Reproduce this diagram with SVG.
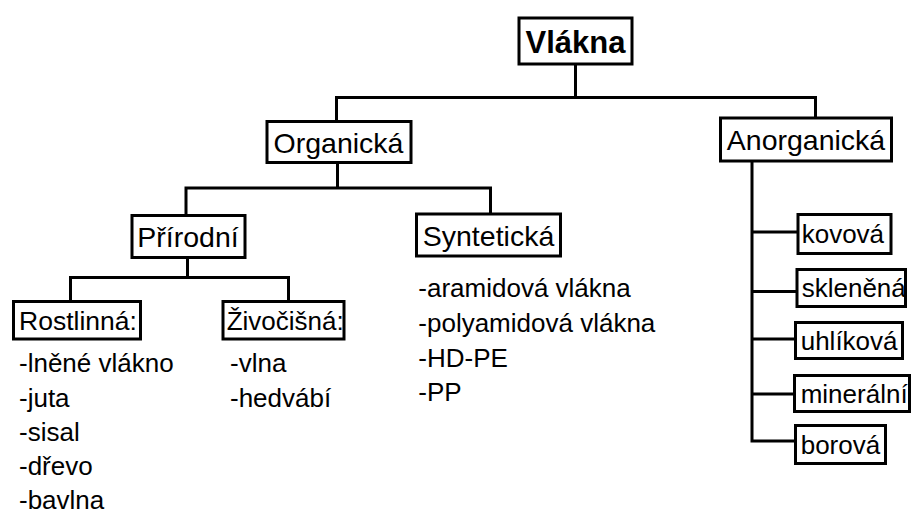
<svg xmlns="http://www.w3.org/2000/svg" width="911" height="514" viewBox="0 0 911 514">
<style>
.box{fill:#fff;stroke:#000;stroke-width:3}
.conn{fill:none;stroke:#000;stroke-width:3;stroke-linejoin:miter}
text{font-family:"Liberation Sans",Arial,sans-serif;fill:#000}
.t1{font-size:31px;font-weight:bold;text-anchor:middle}
.t2{font-size:28.5px;text-anchor:middle}
.t3{font-size:26px}
</style>
<rect width="911" height="514" fill="#fff"/>
<g id="connectors">
<path class="conn" d="M575.5,64 V97.5"/>
<path class="conn" d="M336.5,121 V97.5 H815.5 V118"/>
<path class="conn" d="M337.5,163 V188"/>
<path class="conn" d="M186,215 V188 H490.5 V214"/>
<path class="conn" d="M187.5,258 V277.5"/>
<path class="conn" d="M70.5,301 V277.5 H288.5 V301"/>
<path class="conn" d="M752,161 V441 H795"/>
<path class="conn" d="M752,232 H797"/>
<path class="conn" d="M752,291.5 H796"/>
<path class="conn" d="M752,339 H795"/>
<path class="conn" d="M752,394 H794"/>
</g>
<g id="vlakna">
<rect class="box" x="519" y="18" width="113" height="46"/>
<text class="t1" x="575.5" y="52.5">Vlákna</text>
</g>
<g id="organicka">
<rect class="box" x="267" y="121.5" width="144" height="41"/>
<text class="t2" x="338.5" y="152.5">Organická</text>
</g>
<g id="anorganicka">
<rect class="box" x="720.5" y="118" width="171" height="43"/>
<text class="t2" x="806" y="149.7">Anorganická</text>
</g>
<g id="prirodni">
<rect class="box" x="132" y="215.5" width="113" height="42"/>
<text class="t2" x="188" y="247">Přírodní</text>
</g>
<g id="synteticka">
<rect class="box" x="416.5" y="214" width="144" height="42"/>
<text class="t2" x="488.5" y="245.5">Syntetická</text>
</g>
<g id="rostlinna">
<rect class="box" x="13.5" y="301.5" width="127" height="37.5"/>
<text class="t3" x="19" y="329.8" style="font-size:26.5px">Rostlinná:</text>
<text class="t3" x="19" y="372">-lněné vlákno</text>
<text class="t3" x="19" y="406.5">-juta</text>
<text class="t3" x="19" y="441">-sisal</text>
<text class="t3" x="19" y="475">-dřevo</text>
<text class="t3" x="19" y="508.5">-bavlna</text>
</g>
<g id="zivocisna">
<rect class="box" x="223" y="301.5" width="121" height="37.5"/>
<text class="t3" x="226.7" y="329.8">Živočišná:</text>
<text class="t3" x="230" y="372">-vlna</text>
<text class="t3" x="230" y="407">-hedvábí</text>
</g>
<g id="synteticka-list">
<text class="t3" x="418.3" y="297">-aramidová vlákna</text>
<text class="t3" x="418.3" y="331.5">-polyamidová vlákna</text>
<text class="t3" x="418.3" y="366.5">-HD-PE</text>
<text class="t3" x="418.3" y="401">-PP</text>
</g>
<g id="kovova">
<rect class="box" x="798" y="214.5" width="93" height="39"/>
<text class="t3" x="801.7" y="243.3">kovová</text>
</g>
<g id="sklenena">
<rect class="box" x="797" y="269.5" width="108.5" height="37"/>
<text class="t3" x="801.7" y="297.3">skleněná</text>
</g>
<g id="uhlikova">
<rect class="box" x="795.5" y="322.5" width="107" height="36"/>
<text class="t3" x="800.7" y="350">uhlíková</text>
</g>
<g id="mineralni">
<rect class="box" x="794.5" y="375.5" width="115" height="36"/>
<text class="t3" x="800.7" y="403">minerální</text>
</g>
<g id="borova">
<rect class="box" x="795.5" y="425.5" width="90" height="38"/>
<text class="t3" x="800.7" y="454">borová</text>
</g>
</svg>
